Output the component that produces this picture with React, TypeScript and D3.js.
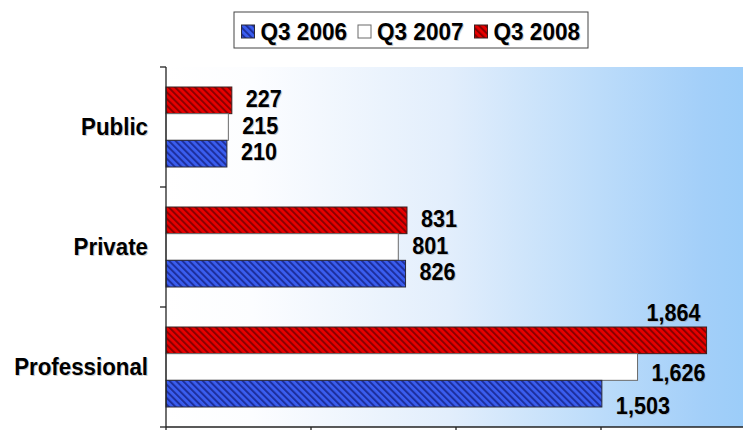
import React from "react";
import * as d3 from "d3";

const categories = ["Public", "Private", "Professional"];
const seriesNames = ["Q3 2006", "Q3 2007", "Q3 2008"];
const q3_2006 = [210, 826, 1503];
const q3_2007 = [215, 801, 1626];
const q3_2008 = [227, 831, 1864];
const xTicks = [0, 500, 1000, 1500, 2000];

const seriesValues: Record<string, number[]> = {
  "Q3 2006": q3_2006,
  "Q3 2007": q3_2007,
  "Q3 2008": q3_2008,
};

const W = 743;
const H = 430;
const plot = { left: 166, top: 67, right: 743, bottom: 427 };
const FONT = "'Liberation Sans', Arial, Helvetica, sans-serif";

const fills: Record<string, string> = {
  "Q3 2006": "url(#stripeBlue)",
  "Q3 2007": "#ffffff",
  "Q3 2008": "url(#stripeRed)",
};
const strokes: Record<string, string> = {
  "Q3 2006": "#2a2a3a",
  "Q3 2007": "#6a6a6a",
  "Q3 2008": "#3a2020",
};

// label placement nudges (layout only)
const labelNudge: Record<string, { dx: number; dy: number; above?: boolean }> = {
  "Professional|Q3 2008": { dx: -6, dy: 0, above: true },
  "Professional|Q3 2007": { dx: 0, dy: 5 },
  "Professional|Q3 2006": { dx: 0, dy: 12 },
};

const fmt = d3.format(",");

function SText({
  x,
  y,
  size,
  sx,
  anchor,
  children,
}: {
  x: number;
  y: number;
  size: number;
  sx: number;
  anchor: "start" | "end" | "middle";
  children: React.ReactNode;
}) {
  return (
    <g transform={`translate(${x},${y}) scale(${sx},1)`}>
      <text
        x={1}
        y={1}
        fontFamily={FONT}
        fontWeight="bold"
        fontSize={size}
        textAnchor={anchor}
        fill="#9a9a9a"
        opacity={0.5}
      >
        {children}
      </text>
      <text
        x={0}
        y={0}
        fontFamily={FONT}
        fontWeight="bold"
        fontSize={size}
        textAnchor={anchor}
        fill="#000"
      >
        {children}
      </text>
    </g>
  );
}

export default function App() {
  const x = d3.scaleLinear().domain([0, 2000]).range([plot.left, 746]);
  const y = d3.scaleBand<string>().domain(categories).range([plot.top, plot.bottom]).padding(0);
  const order = [...seriesNames].reverse(); // 2008 top
  const yInner = d3
    .scaleBand<string>()
    .domain(order)
    .range([0, y.bandwidth()])
    .paddingInner(0)
    .paddingOuter(0.75);

  const valSize = 24;
  const capH = 0.716 * valSize;

  const legendX = 234;
  const legendY = 12;
  const legendStep = 116.5;

  return (
    <svg
      width={W}
      height={H}
      style={{ position: "absolute", left: 0, top: 0, background: "#fff" }}
    >
      <defs>
        <linearGradient id="bg" x1="0" x2="1" y1="0" y2="0">
          <stop offset="0" stopColor="#ffffff" />
          <stop offset="0.15" stopColor="#fcfdff" />
          <stop offset="0.49" stopColor="#e2eefc" />
          <stop offset="0.75" stopColor="#bcdcfa" />
          <stop offset="0.93" stopColor="#a3cff9" />
          <stop offset="1" stopColor="#9ccdf9" />
        </linearGradient>
        <pattern
          id="stripeRed"
          width={4.7}
          height={10}
          patternUnits="userSpaceOnUse"
          patternTransform="rotate(-45)"
        >
          <rect width={4.7} height={10} fill="#e80000" />
          <rect width={2} height={10} fill="#8a0000" />
        </pattern>
        <pattern
          id="stripeBlue"
          width={4.7}
          height={10}
          patternUnits="userSpaceOnUse"
          patternTransform="rotate(-45)"
        >
          <rect width={4.7} height={10} fill="#3a5ef0" />
          <rect width={2} height={10} fill="#1e2f9c" />
        </pattern>
      </defs>

      {/* legend */}
      <rect
        x={legendX}
        y={legendY}
        width={354}
        height={36}
        fill="#fff"
        stroke="#444"
        strokeWidth={1}
      />
      {seriesNames.map((s, i) => {
        const lx = legendX + 7.5 + i * legendStep;
        return (
          <g key={s}>
            <rect
              x={lx}
              y={legendY + 13}
              width={13}
              height={13}
              fill={fills[s]}
              stroke={strokes[s]}
              strokeWidth={1}
            />
            <SText x={lx + 19} y={legendY + 19.5 + 0.358 * 24} size={24} sx={0.94} anchor="start">
              {s}
            </SText>
          </g>
        );
      })}

      {/* plot background */}
      <rect
        x={plot.left}
        y={plot.top}
        width={plot.right - plot.left}
        height={plot.bottom - plot.top}
        fill="url(#bg)"
      />

      {/* bars */}
      {categories.map((c, ci) => (
        <g key={c}>
          {order.map((s) => {
            const v = seriesValues[s][ci];
            const by = (y(c) as number) + (yInner(s) as number);
            const bh = yInner.bandwidth();
            return (
              <rect
                key={s}
                x={x(0)}
                y={by}
                width={x(v) - x(0)}
                height={bh}
                fill={fills[s]}
                stroke={strokes[s]}
                strokeWidth={1}
              />
            );
          })}
        </g>
      ))}

      {/* value labels */}
      {categories.map((c, ci) =>
        order.map((s) => {
          const v = seriesValues[s][ci];
          const by = (y(c) as number) + (yInner(s) as number);
          const bh = yInner.bandwidth();
          const n = labelNudge[`${c}|${s}`];
          if (n && n.above) {
            return (
              <SText
                key={c + s}
                x={x(v) + n.dx}
                y={by - 15 + capH / 2}
                size={valSize}
                sx={0.9}
                anchor="end"
              >
                {fmt(v)}
              </SText>
            );
          }
          const cy = by + bh / 2 - 2 + (n ? n.dy + 2 : 0);
          return (
            <SText
              key={c + s}
              x={x(v) + 14 + (n ? n.dx : 0)}
              y={cy + capH / 2}
              size={valSize}
              sx={0.9}
              anchor="start"
            >
              {fmt(v)}
            </SText>
          );
        })
      )}

      {/* axes */}
      <line x1={plot.left} x2={plot.left} y1={plot.top} y2={plot.bottom} stroke="#222" strokeWidth={1.3} />
      <line x1={plot.left} x2={plot.right} y1={plot.bottom} y2={plot.bottom} stroke="#222" strokeWidth={1.3} />
      {xTicks.map((t) => (
        <line key={t} x1={x(t)} x2={x(t)} y1={plot.bottom} y2={plot.bottom + 5} stroke="#222" strokeWidth={1.3} />
      ))}
      {[...categories.map((c) => y(c) as number), plot.bottom].map((ty, i) => (
        <line key={i} x1={plot.left - 6} x2={plot.left} y1={ty} y2={ty} stroke="#222" strokeWidth={1.3} />
      ))}

      {/* category labels */}
      {categories.map((c) => (
        <SText
          key={c}
          x={148}
          y={(y(c) as number) + y.bandwidth() / 2 - 1 + 0.358 * 24}
          size={24}
          sx={0.93}
          anchor="end"
        >
          {c}
        </SText>
      ))}
    </svg>
  );
}
